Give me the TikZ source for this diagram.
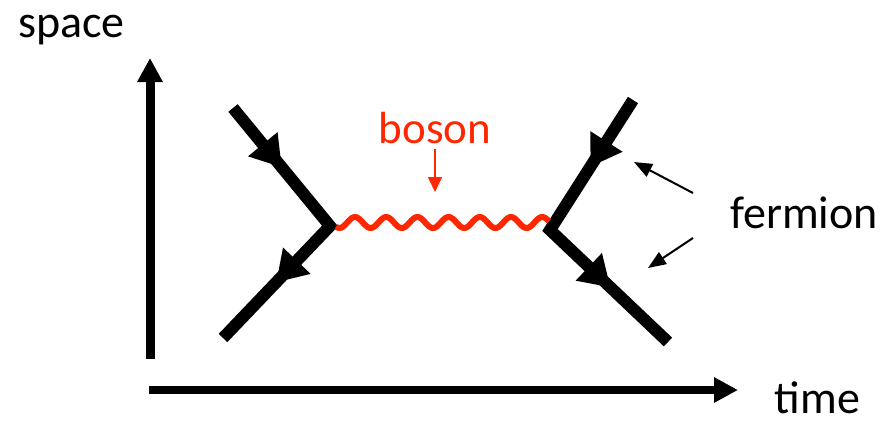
\documentclass[tikz,border=0pt]{standalone}
\usepackage{fontspec}
\setmainfont{Carlito}
\usetikzlibrary{arrows.meta,decorations.markings}
\definecolor{bosonred}{RGB}{255,38,0}
\begin{document}
\begin{tikzpicture}[x=1pt,y=-1pt,
  lbl/.style={inner sep=0pt, font=\fontsize{46}{50}\selectfont},
  axis/.style={line width=#1, -{Triangle[length=24pt,width=24pt]}},
  fermionline/.style={line width=12pt, line join=miter, postaction={decorate},
    decoration={markings,
      mark=at position 0.25 with {\arrow{Triangle[length=30pt,width=36pt]}},
      mark=at position 0.75 with {\arrow{Triangle[length=30pt,width=36pt]}}}},
  bosonline/.style={bosonred, line width=6pt},
  pointer/.style={line width=2pt, -{Triangle[length=18pt,width=14pt]}},
  bosonpointer/.style={bosonred, line width=1.6pt, -{Triangle[length=15pt,width=14pt]}}]
\useasboundingbox (0,0) rectangle (890,424);
% axes
\coordinate (sb) at (150,359);
\coordinate (st) at (150,58);
\coordinate (tb) at (149,390);
\coordinate (tt) at (738,390);
\draw[axis=9pt] (sb) -- (st);
\draw[axis=8pt] (tb) -- (tt);
\node[lbl, anchor=base] (space) at (71.5,37) {space};
\node[lbl, anchor=base] (time) at (817.5,413) {time};
% fermion lines
\coordinate (lt) at (233,108);
\coordinate (vL) at (330,226);
\coordinate (lb) at (223,338);
\coordinate (rt) at (633,100);
\coordinate (vR) at (550,230);
\coordinate (rb) at (668,342);
\draw[fermionline] (lt) -- (vL) -- (lb);
\draw[fermionline] (rt) -- (vR) -- (rb);
% boson (wavy line between the two vertices)
\draw[bosonline] plot[domain=336:549, samples=160, smooth] (\x, {222.5-5.5*cos((\x-355)*11.538)});
\node[lbl, font=\fontsize{45}{50}\selectfont, text=bosonred, anchor=base] (boson) at (435,143) {boson};
\coordinate (bp) at (435,192);
\draw[bosonpointer] (435,149) -- (bp);
% fermion label
\node[lbl, anchor=base] (fermion) at (804,228) {fermion};
\coordinate (f1s) at (693,193);
\coordinate (f1t) at (634,162);
\coordinate (f2s) at (693,238);
\coordinate (f2t) at (648,268);
\draw[pointer] (f1s) -- (f1t);
\draw[pointer] (f2s) -- (f2t);
\end{tikzpicture}
\end{document}
